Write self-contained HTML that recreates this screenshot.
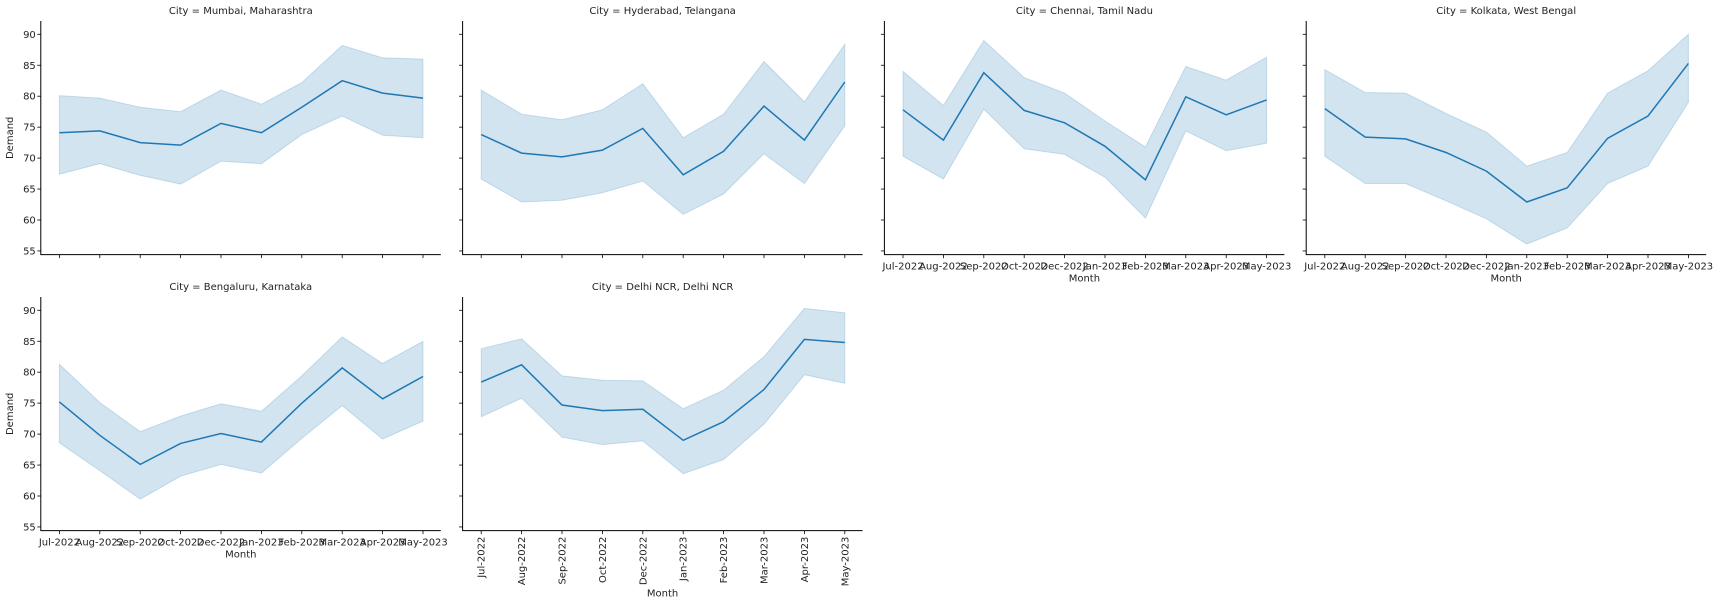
<!DOCTYPE html>
<html><head><meta charset="utf-8">
<style>
html,body{margin:0;padding:0;background:#fff;}
svg{display:block;font-family:"DejaVu Sans","Liberation Sans",sans-serif;}
</style></head>
<body>
<svg id="chart" width="1720" height="608" viewBox="0 0 1720 608" xmlns="http://www.w3.org/2000/svg"></svg>
<script>
const months = ["Jul-2022","Aug-2022","Sep-2022","Oct-2022","Dec-2022","Jan-2023","Feb-2023","Mar-2023","Apr-2023","May-2023"];
const yTicks = [55,60,65,70,75,80,85,90];
const cities = ["Mumbai, Maharashtra","Hyderabad, Telangana","Chennai, Tamil Nadu","Kolkata, West Bengal","Bengaluru, Karnataka","Delhi NCR, Delhi NCR"];
const meanMumbai = [74.1,74.4,72.5,72.1,75.6,74.1,78.2,82.5,80.5,79.7];
const upperMumbai = [80.1,79.7,78.2,77.5,81.0,78.7,82.2,88.2,86.2,86.0];
const lowerMumbai = [67.4,69.1,67.2,65.8,69.5,69.1,73.8,76.8,73.7,73.3];
const meanHyderabad = [73.8,70.8,70.2,71.3,74.8,67.3,71.1,78.4,72.9,82.3];
const upperHyderabad = [81.0,77.1,76.2,77.8,82.0,73.3,77.1,85.6,79.1,88.4];
const lowerHyderabad = [66.6,62.9,63.2,64.4,66.3,60.9,64.2,70.7,65.9,75.2];
const meanChennai = [77.8,72.9,83.8,77.7,75.7,71.9,66.5,79.9,77.0,79.4];
const upperChennai = [84.0,78.5,89.0,83.0,80.5,76.0,71.8,84.8,82.6,86.3];
const lowerChennai = [70.3,66.6,77.9,71.5,70.6,66.9,60.3,74.4,71.2,72.4];
const meanKolkata = [78.0,73.4,73.1,70.9,67.9,62.9,65.2,73.2,76.8,85.3];
const upperKolkata = [84.3,80.6,80.5,77.2,74.2,68.7,70.9,80.5,84.1,90.0];
const lowerKolkata = [70.3,65.9,65.9,63.1,60.2,56.1,58.7,65.9,68.7,79.0];
const meanBengaluru = [75.2,69.8,65.1,68.5,70.1,68.7,75.0,80.7,75.7,79.3];
const upperBengaluru = [81.3,75.1,70.4,72.9,74.9,73.7,79.4,85.7,81.4,85.0];
const lowerBengaluru = [68.6,64.1,59.5,63.2,65.1,63.7,69.3,74.6,69.2,72.1];
const meanDelhi = [78.4,81.2,74.7,73.8,74.0,69.0,72.0,77.2,85.3,84.8];
const upperDelhi = [83.8,85.4,79.4,78.7,78.6,74.1,77.1,82.5,90.3,89.6];
const lowerDelhi = [72.8,75.8,69.5,68.3,68.9,63.6,65.9,71.6,79.6,78.2];

const means=[meanMumbai,meanHyderabad,meanChennai,meanKolkata,meanBengaluru,meanDelhi];
const uppers=[upperMumbai,upperHyderabad,upperChennai,upperKolkata,upperBengaluru,upperDelhi];
const lowers=[lowerMumbai,lowerHyderabad,lowerChennai,lowerKolkata,lowerBengaluru,lowerDelhi];

const svg=document.getElementById('chart');
const NS="http://www.w3.org/2000/svg";
function mk(tag,attrs,parent){const e=document.createElementNS(NS,tag);for(const k in attrs)e.setAttribute(k,attrs[k]);(parent||svg).appendChild(e);return e;}

const colX0=[40.8,462.6,884.4,1306.2], axW=400;
const rowTop=[21,297], rowY90=[34.3,310.3], pxPer=6.19;
// label mode: 0 none, 1 horizontal, 2 rotated
const labelMode=[0,0,1,1,1,2];

cities.forEach((city,i)=>{
  const r=Math.floor(i/4), c=i%4;
  const x0=colX0[c];
  const g=mk('g',{});
  
  
  const xs=k=>x0+18.6+k*40.4;
  const ys=v=>rowY90[r]+(90-v)*pxPer;
  const yBot=ys(55)+3.7;
  // band
  let d='';
  uppers[i].forEach((v,k)=>{d+=(k?'L':'M')+xs(k).toFixed(1)+','+ys(v).toFixed(1);});
  for(let k=lowers[i].length-1;k>=0;k--)d+='L'+xs(k).toFixed(1)+','+ys(lowers[i][k]).toFixed(1);
  const band=mk('path',{d:d+'Z',fill:'#1f77b4','fill-opacity':'0.2',stroke:'#1f77b4','stroke-opacity':'0.2','stroke-width':'1'},g);
  
  
  let ld='';
  means[i].forEach((v,k)=>{ld+=(k?'L':'M')+xs(k).toFixed(1)+','+ys(v).toFixed(1);});
  const line=mk('path',{d:ld,fill:'none',stroke:'#1f77b4','stroke-width':'1.5'},g);
  
  
  // axes
  const ax=mk('path',{d:`M${x0},${rowTop[r]}V${yBot}H${x0+axW}`,fill:'none',stroke:'#000','stroke-width':'1'},g);
  
  
  // y ticks
  yTicks.forEach(t=>{
    mk('line',{x1:x0-3.5,x2:x0,y1:ys(t),y2:ys(t),stroke:'#000','stroke-width':'0.8'},g);
    if(c===0){
      const tl=mk('text',{x:x0-5,y:ys(t)+3.5,'text-anchor':'end','font-size':'10',fill:'#222'},g);
      tl.textContent=t;
      
      
    }
  });
  if(c===0){
    const yl=mk('text',{transform:`translate(${x0-28},${(rowTop[r]+yBot)/2}) rotate(-90)`,'text-anchor':'middle','font-size':'10',fill:'#222'},g);
    yl.textContent='Demand';
    
    
  }
  // x ticks
  months.forEach((m,k)=>{
    mk('line',{x1:xs(k),x2:xs(k),y1:yBot,y2:yBot+3.5,stroke:'#000','stroke-width':'0.8'},g);
    if(labelMode[i]===1){
      const t=mk('text',{x:xs(k),y:yBot+15,'text-anchor':'middle','font-size':'10',fill:'#222'},g);
      t.textContent=m;
      
      
    } else if(labelMode[i]===2){
      const t=mk('text',{transform:`translate(${xs(k)+3.5},${yBot+6}) rotate(-90)`,'text-anchor':'end','font-size':'10',fill:'#222'},g);
      t.textContent=m;
      
      
    }
  });
  if(labelMode[i]>0){
    const xl=mk('text',{x:x0+axW/2,y:labelMode[i]===1?yBot+27:yBot+66,'text-anchor':'middle','font-size':'10',fill:'#222'},g);
    xl.textContent='Month';
    
    
  }
  const title=mk('text',{x:x0+axW/2,y:rowTop[r]-7,'text-anchor':'middle','font-size':'10',fill:'#222'},g);
  title.textContent='City = '+city;
  
  
});
</script>
</body></html>
